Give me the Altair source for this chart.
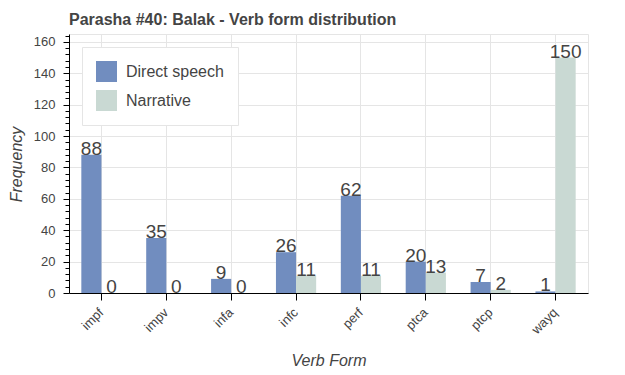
import altair as alt
import pandas as pd

forms = ["impf", "impv", "infa", "infc", "perf", "ptca", "ptcp", "wayq"]
direct = [88, 35, 9, 26, 62, 20, 7, 1]
narrative = [0, 0, 0, 11, 11, 13, 2, 150]
series = ["Direct speech", "Narrative"]
colors = ["#718dbf", "#c9d9d3"]
y_ticks = list(range(0, 165, 4))

rows = []
for f, d, n in zip(forms, direct, narrative):
    rows.append({"form": f, "type": series[0], "count": d})
    rows.append({"form": f, "type": series[1], "count": n})
df = pd.DataFrame(rows)

FONT = "Liberation Sans"
TXT = "#444444"
GRID = "#e5e5e5"
major = "datum.value % 20 === 0"

x = alt.X(
    "form:N",
    sort=forms,
    title="Verb Form",
    scale=alt.Scale(paddingInner=0.38, paddingOuter=0.19),
    axis=alt.Axis(
        grid=True, bandPosition=0.5, gridColor=GRID, domainColor="black",
        tickColor="black", tickSize=7, labelAngle=-45, labelAlign="right",
        labelBaseline="middle", labelFontSize=13, labelColor=TXT, labelFont=FONT,
        labelPadding=10, titleFont=FONT, titleFontSize=16, titleFontStyle="italic",
        titleFontWeight="normal", titleColor=TXT, titleY=72,
        titleBaseline="alphabetic",
    ),
)
y = alt.Y(
    "count:Q",
    title="Frequency",
    scale=alt.Scale(domain=[0, 165], nice=False),
    axis=alt.Axis(
        values=y_ticks,
        labelExpr=f"{major} ? datum.label : ''",
        labelOverlap=False,
        tickSize={"condition": {"test": major, "value": 6}, "value": 4},
        gridOpacity={"condition": {"test": major, "value": 1}, "value": 0},
        gridColor=GRID, domainColor="black", tickColor="black",
        labelFontSize=13, labelColor=TXT, labelFont=FONT, labelPadding=8,
        titleFont=FONT, titleFontSize=16, titleFontStyle="italic",
        titleFontWeight="normal", titleColor=TXT, titleX=-45, titleY=130,
        titleAngle=-90, titleBaseline="bottom",
    ),
)
xo = alt.XOffset("type:N", sort=series, scale=alt.Scale(paddingInner=0, paddingOuter=0))

base = alt.Chart(df).encode(x=x, xOffset=xo, y=y)

bars = base.mark_bar().encode(
    color=alt.Color(
        "type:N",
        sort=series,
        scale=alt.Scale(domain=series, range=colors),
        legend=alt.Legend(
            orient="none", legendX=13, legendY=13, title=None,
            symbolType="square", symbolSize=441, symbolStrokeWidth=0,
            symbolOpacity=1, labelFontSize=16, labelColor=TXT, labelFont=FONT,
            rowPadding=8, labelOffset=9, padding=14, fillColor="white",
            strokeColor=GRID,
        ),
    )
)
labels = base.mark_text(baseline="alphabetic", fontSize=19, color=TXT, font=FONT).encode(
    text="count:Q"
)

chart = (
    (bars + labels)
    .properties(
        width=519,
        height=259,
        title=alt.TitleParams(
            "Parasha #40: Balak - Verb form distribution",
            anchor="start", frame="group", fontSize=16, fontWeight="bold",
            color=TXT, font=FONT, offset=-11, baseline="alphabetic",
        ),
        autosize=alt.AutoSizeParams(type="none"),
        padding={"left": 61, "top": 26, "right": 29, "bottom": 74},
    )
    .configure_view(stroke=GRID, strokeWidth=1)
)

chart.save("out.html", embed_options={"renderer": "svg", "actions": False})
